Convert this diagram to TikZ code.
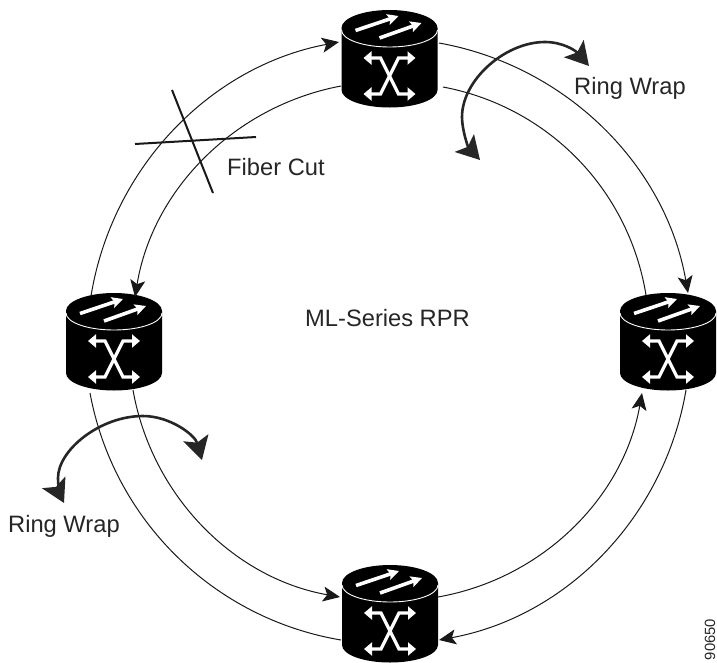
\documentclass[tikz,border=0pt]{standalone}
\usepackage{fontspec}
\setmainfont{Liberation Sans}
\usetikzlibrary{arrows.meta,calc}
\tikzset{
  routerbox/.style={inner sep=0pt,minimum width=96pt,minimum height=97pt},
  ring/.style={line width=1pt,black!90,looseness=0.94},
  ringtip/.style={ring,-{Stealth[length=17pt,width=15pt,inset=4pt]}},
  wrap/.style={line width=2.6pt,black!85,{Stealth[length=23pt,width=26pt,inset=5pt]}-{Stealth[length=23pt,width=26pt,inset=5pt]}},
  cut/.style={line width=2pt,black!90},
  lbl/.style={font=\fontsize{23.7}{28}\selectfont,text=black!85,inner sep=0pt,anchor=base west},
  idlbl/.style={font=\fontsize{14.8}{18}\selectfont,text=black!85,inner sep=0pt,rotate=90},
  flow/.style={white,line width=3.6pt,-{Stealth[length=11pt,width=11pt,inset=2pt]}},
  xing/.style={white,line width=3.2pt,{Triangle[length=8pt,width=13pt]}-{Triangle[length=8pt,width=13pt]}}
}
\newcommand{\routerat}[3]{%
  \node[routerbox] (#1) at (#2,#3+30.5) {};
  \begin{scope}[shift={(#2,#3)}]
    \fill[black] (-48,0) arc[start angle=180,end angle=0,x radius=48pt,y radius=18pt]
      -- (48,62) arc[start angle=0,end angle=-180,x radius=48pt,y radius=17.5pt] -- cycle;
    \draw[white,line width=0.9pt] (-48,2) arc[start angle=180,end angle=360,x radius=48pt,y radius=17pt];
    \draw[flow] (-34,2.5) -- (9,-12);
    \draw[flow] (-10,10) -- (32,-5);
    \draw[xing,line join=miter] (-26,30) -- (-9,30) -- (9,66) -- (26,66);
    \draw[xing,line join=miter] (26,30) -- (9,30) -- (-9,66) -- (-26,66);
  \end{scope}}
\begin{document}
\begin{tikzpicture}[x=1pt,y=-1pt]
\useasboundingbox (0,0) rectangle (717,662);
\routerat{top}{389.5}{28}
\routerat{left}{114}{311}
\routerat{right}{668}{311}
\routerat{bottom}{390}{583}
% ring spans, clockwise from left router
\draw[ringtip] ([shift={(-23,-45.5)}]left.center) to[bend left=35] ([shift={(-50.5,-16.5)}]top.center);
\draw[ringtip] ([shift={(-48.5,27.5)}]top.center) to[bend right=35] ([shift={(21,-44.5)}]left.center);
\draw[ringtip] ([shift={(49.5,-15.5)}]top.center) to[bend left=35] ([shift={(20,-48.5)}]right.center);
\draw[ring] ([shift={(53.5,28.5)}]top.center) to[bend left=35] ([shift={(-22,-46.5)}]right.center);
\draw[ring] ([shift={(-24,51.5)}]left.center) to[bend right=35] ([shift={(-49,26.5)}]bottom.center);
\draw[ringtip] ([shift={(19,48.5)}]left.center) to[bend right=35] ([shift={(-50,-16.5)}]bottom.center);
\draw[ringtip] ([shift={(48,-16.5)}]bottom.center) to[bend right=35] ([shift={(-26,51.5)}]right.center);
\draw[ringtip] ([shift={(18,48.5)}]right.center) to[bend left=35] ([shift={(49,26.5)}]bottom.center);
% labels
\node[lbl] (rw1) at (574,94) {Ring Wrap};
\node[lbl] (rw2) at (8,532) {Ring Wrap};
\node[lbl] (fc) at (227,175) {Fiber Cut};
\node[lbl] (ml) at (305,326) {ML-Series RPR};
\node[idlbl] (idn) at (710,639.5) {90650};
% ring wrap arrows
\coordinate (wa) at (589,66);
\coordinate (wb) at (545,42);
\coordinate (wc) at (462,117);
\coordinate (wd) at (480,160);
\draw[wrap] (wa) .. controls (575,50) and (562,42) .. (wb)
  .. controls (505,42) and (462,80) .. (wc) .. controls (462,130) and (468,147) .. (wd);
\coordinate (va) at (202,460);
\coordinate (vb) at (143,416);
\coordinate (vc) at (58,478);
\coordinate (vd) at (64,503);
\draw[wrap] (va) .. controls (195,435) and (170,416) .. (vb)
  .. controls (100,416) and (58,450) .. (vc) .. controls (58,485) and (60,495) .. (vd);
% fiber cut
\coordinate (ca) at (172,90);
\coordinate (cb) at (213,193);
\coordinate (cc) at (135,144);
\coordinate (cd) at (256,137);
\draw[cut] (ca) -- (cb);
\draw[cut] (cc) -- (cd);
\end{tikzpicture}
\end{document}
